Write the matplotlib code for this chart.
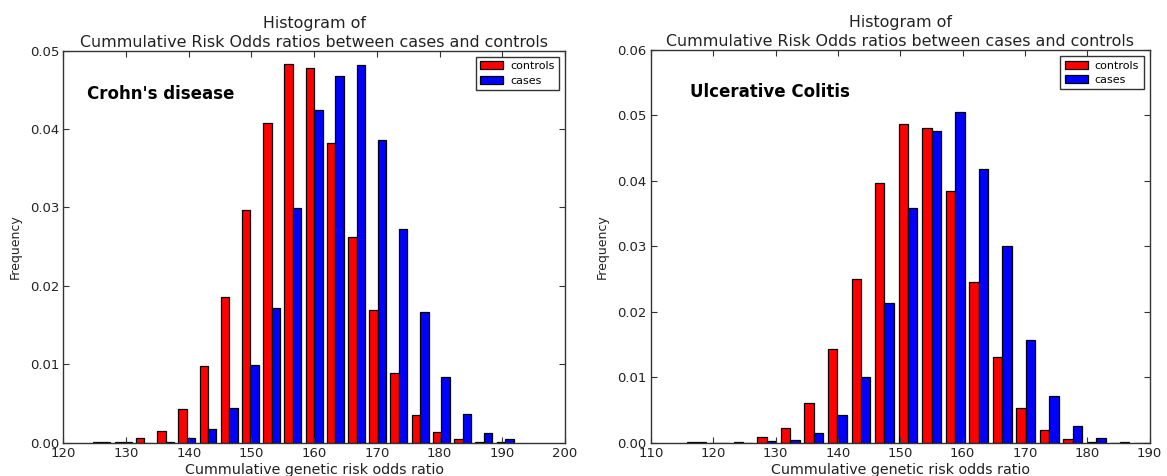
import numpy as np
import matplotlib
matplotlib.use("Agg")
import matplotlib.pyplot as plt
from matplotlib.ticker import FormatStrFormatter

# Crohn's disease: 20 equal bins, frequency per bin
cd_edges = np.linspace(124.47, 192.13, 21)
cd_controls = [0.00005, 0.00005, 0.00056, 0.0015, 0.00427, 0.0098, 0.01857, 0.02963,
               0.0408, 0.04833, 0.04773, 0.03824, 0.02623, 0.01695, 0.00894, 0.00354,
               0.0014, 0.00043, 0.0001, 0.00005]
cd_cases = [0.00005, 0.00005, 0.0, 0.0001, 0.00056, 0.00175, 0.0044, 0.00988,
            0.01716, 0.02989, 0.0424, 0.04675, 0.04815, 0.03866, 0.02729, 0.01673,
            0.00843, 0.00363, 0.00128, 0.00043]

# Ulcerative colitis
uc_edges = np.linspace(115.38, 190.88, 21)
uc_controls = [0.00005, 0.0, 0.00005, 0.00082, 0.0023, 0.0061, 0.01427, 0.0250,
               0.03973, 0.04865, 0.04813, 0.0385, 0.0246, 0.01304, 0.00525, 0.00194,
               0.00057, 0.0001, 0.0, 0.0]
uc_cases = [0.00005, 0.0, 0.0, 0.0002, 0.0004, 0.00153, 0.00423, 0.01009,
            0.0213, 0.0359, 0.04763, 0.05048, 0.04182, 0.03005, 0.01569, 0.00714,
            0.00255, 0.00067, 0.0001, 0.0]

series_labels = ["controls", "cases"]
series_colors = ["red", "blue"]

title = "Histogram of\nCummulative Risk Odds ratios between cases and controls"
xlabel = "Cummulative genetic risk odds ratio"

panels = [
    (cd_edges, cd_controls, cd_cases, "Crohn's disease", (120, 200), np.arange(120, 201, 10),
     (0, 0.05), np.arange(0, 0.0501, 0.01), (0.047, 0.89)),
    (uc_edges, uc_controls, uc_cases, "Ulcerative Colitis", (110, 190), np.arange(110, 191, 10),
     (0, 0.06), np.arange(0, 0.0601, 0.01), (0.078, 0.893)),
]

fig = plt.figure(figsize=(11.67, 4.76), dpi=100)
positions = [[0.0542, 0.070, 0.430, 0.8235], [0.5578, 0.070, 0.4273, 0.825]]

text_color = "#222222"
for pos, (edges, controls, cases, name, xlim, xt, ylim, yt, txy) in zip(positions, panels):
    ax = fig.add_axes(pos)
    centers = (edges[:-1] + edges[1:]) / 2
    ax.hist([centers, centers], bins=edges, weights=[controls, cases],
            color=series_colors, label=series_labels,
            edgecolor="black", linewidth=0.9)
    ax.set_xlim(*xlim)
    ax.set_ylim(*ylim)
    ax.set_xticks(xt)
    ax.set_yticks(yt)
    ax.yaxis.set_major_formatter(FormatStrFormatter("%.2f"))
    ax.tick_params(direction="in", top=True, right=True, length=4, width=0.8,
                   labelsize=9.5, colors="#333333", labelcolor=text_color, pad=3)
    for s in ax.spines.values():
        s.set_color("#333333")
        s.set_linewidth(1.0)
    ax.set_title(title, fontsize=11.4, color=text_color, pad=3, linespacing=1.3)
    ax.set_xlabel(xlabel, fontsize=10.3, color=text_color, labelpad=2.5)
    ax.set_ylabel("Frequency", fontsize=9, color=text_color, labelpad=6)
    ax.text(txy[0], txy[1], name, transform=ax.transAxes, fontsize=12,
            fontweight="bold", va="center", ha="left")
    leg = ax.legend(loc="upper right", fontsize=8, fancybox=False, framealpha=1,
                    borderaxespad=0.55, handlelength=2.1, handletextpad=0.6,
                    borderpad=0.4, labelspacing=0.4)
    leg.get_frame().set_edgecolor("#333333")
    leg.get_frame().set_linewidth(1.0)

fig.savefig("out.png", dpi=100)
